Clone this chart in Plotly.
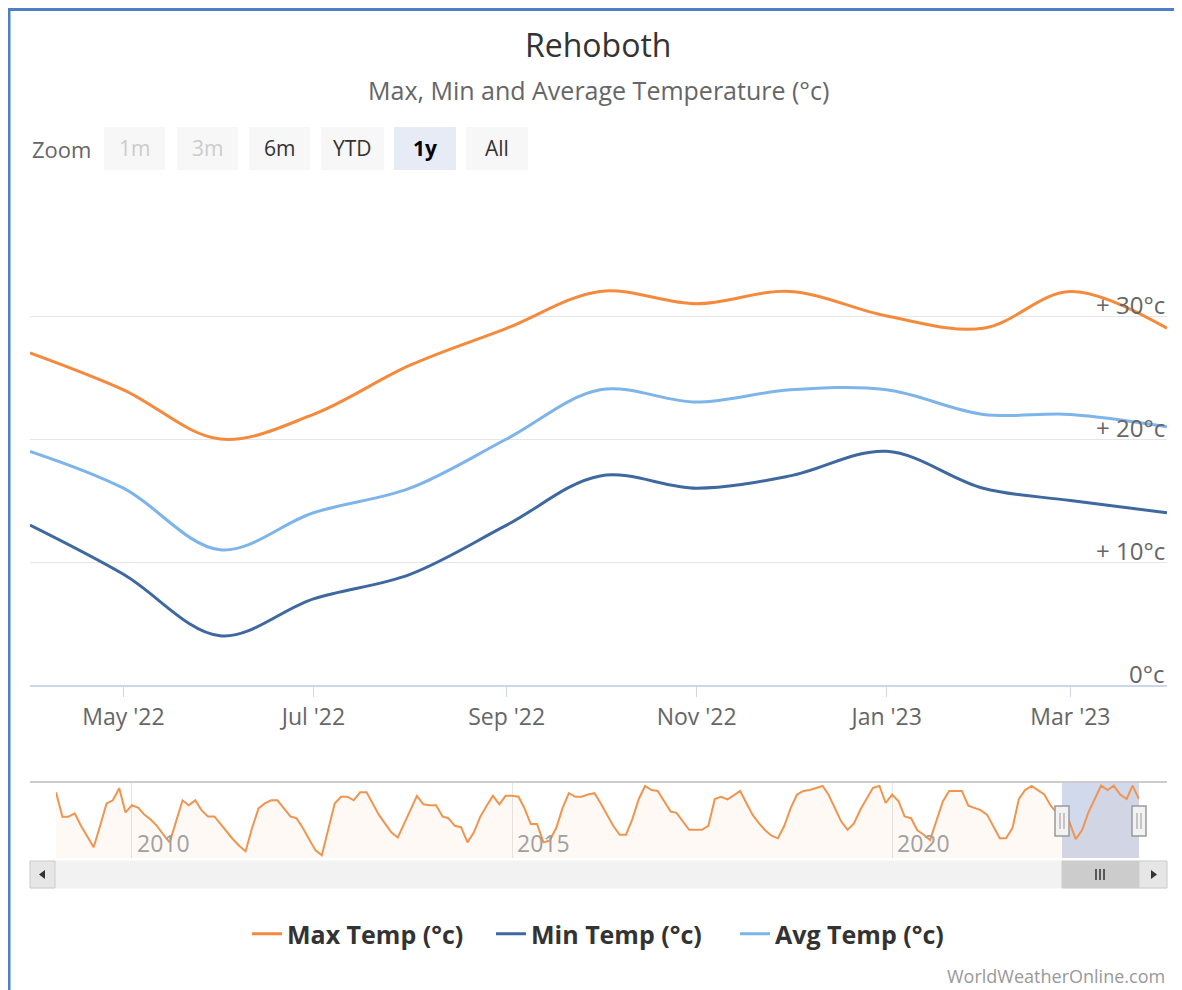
import plotly.graph_objects as go

# main chart: monthly values Apr 2022 - Apr 2023
months = ['2022-04-01', '2022-05-01', '2022-06-01', '2022-07-01', '2022-08-01', '2022-09-01',
          '2022-10-01', '2022-11-01', '2022-12-01', '2023-01-01', '2023-02-01', '2023-03-01',
          '2023-04-01']
max_temp = [27, 24, 20, 22, 26, 29, 32, 31, 32, 30, 29, 32, 29]
min_temp = [13, 9, 4, 7, 9, 13, 17, 16, 17, 19, 16, 15, 14]
avg_temp = [19, 16, 11, 14, 16, 20, 24, 23, 24, 24, 22, 22, 21]

# navigator: monthly max temp history Jan 2009 - Mar 2022 (then continues with max_temp)
nav_max_history = [
    30.5, 25.0, 25.0, 25.8, 23.0, 20.5, 18.2, 23.0, 28.0, 28.7, 31.4, 26.0,   # 2009
    27.6, 27.0, 25.5, 24.4, 23.0, 21.0, 19.3, 24.0, 28.7, 27.6, 28.7, 26.5,   # 2010
    25.1, 25.1, 23.5, 21.5, 20.0, 18.5, 17.3, 22.5, 26.9, 28.0, 28.7, 28.7,   # 2011
    27.0, 25.1, 24.7, 22.5, 20.0, 17.5, 16.4, 22.5, 28.0, 29.5, 29.5, 28.7,   # 2012
    30.5, 30.5, 28.0, 25.5, 23.5, 21.5, 20.4, 23.5, 26.9, 29.7, 27.8, 27.6,   # 2013
    27.6, 25.1, 24.7, 23.0, 22.7, 19.3, 21.5, 25.0, 27.5, 29.7, 27.8, 29.7,   # 2014
    29.7, 29.5, 27.0, 23.4, 23.4, 19.3, 19.7, 22.5, 27.0, 30.3, 29.5, 29.5,   # 2015
    30.0, 30.3, 28.1, 25.5, 23.0, 21.0, 21.0, 24.5, 29.0, 31.9, 31.0, 30.8,   # 2016
    28.5, 26.2, 25.9, 24.0, 22.1, 22.1, 22.1, 23.0, 29.0, 29.5, 28.9, 29.8,   # 2017
    30.8, 28.0, 25.5, 23.6, 22.0, 20.8, 20.2, 23.0, 27.0, 30.0, 30.8, 31.0,   # 2018
    31.5, 31.9, 30.0, 27.0, 24.0, 22.1, 23.5, 26.6, 29.0, 31.5, 31.9, 28.1,   # 2019
    30.0, 28.5, 25.1, 24.7, 22.0, 21.0, 19.8, 24.0, 28.5, 30.8, 30.8, 30.8,   # 2020
    27.5, 27.0, 26.5, 25.5, 23.0, 20.2, 20.2, 22.5, 29.0, 31.0, 31.9, 31.0,   # 2021
    30.0, 27.5, 26.0,                                                         # 2022 Jan-Mar
]
month_ticks = ['2022-05-01', '2022-07-01', '2022-09-01', '2022-11-01', '2023-01-01', '2023-03-01']
month_labels = ["May '22", "Jul '22", "Sep '22", "Nov '22", "Jan '23", "Mar '23"]
year_ticks = ['2010-01-01', '2015-01-01', '2020-01-01']
year_labels = ['2010', '2015', '2020']
y_ticks = [0, 10, 20, 30]
y_labels = ['0°c', '+ 10°c', '+ 20°c', '+ 30°c']
buttons = ['1m', '3m', '6m', 'YTD', '1y', 'All']

nav_dates = []
for yr in range(2009, 2024):
    for mo in range(1, 13):
        nav_dates.append(f'{yr}-{mo:02d}-01')
nav_max = nav_max_history + max_temp
nav_dates = nav_dates[:len(nav_max)]

# page pixels; the plot div sits 8px in from the page corner (body margin)
OFF = 8
PAGE_W, PAGE_H = 1182, 990
W, H = PAGE_W - OFF, PAGE_H - OFF
L, R, T, B = 30, 1167, 193, 858
FONT = 'Open Sans'


def px(x):
    return (x - L) / (R - L)


def py(y):
    return (B - y) / (B - T)


ORANGE = '#f58a3d'
DARK = '#3e689f'
LIGHT = '#7db4ea'

fig = go.Figure()
fig.add_trace(go.Scatter(x=months, y=max_temp, name='Max Temp (°c)', mode='lines',
                         line=dict(color=ORANGE, width=3, shape='spline', smoothing=1)))
fig.add_trace(go.Scatter(x=months, y=min_temp, name='Min Temp (°c)', mode='lines',
                         line=dict(color=DARK, width=3, shape='spline', smoothing=1)))
fig.add_trace(go.Scatter(x=months, y=avg_temp, name='Avg Temp (°c)', mode='lines',
                         line=dict(color=LIGHT, width=3, shape='spline', smoothing=1)))
fig.add_trace(go.Scatter(x=nav_dates, y=nav_max, xaxis='x2', yaxis='y2', mode='lines',
                         showlegend=False, fill='tozeroy', fillcolor='rgba(245,138,61,0.05)',
                         line=dict(color='#ee9550', width=2)))

shapes = []
annotations = []


def text(s, x, y, size, color, xanchor='center', weight='normal'):
    annotations.append(dict(text=s, xref='paper', yref='paper', x=px(x), y=py(y),
                            xanchor=xanchor, yanchor='middle', showarrow=False,
                            font=dict(family=FONT, size=size, color=color, weight=weight)))


def rect(x0, x1, y0, y1, fill, line_color=None, lw=0, layer='above'):
    shapes.append(dict(type='rect', xref='paper', yref='paper', x0=px(x0), x1=px(x1),
                       y0=py(y0), y1=py(y1), fillcolor=fill, layer=layer,
                       line=dict(color=line_color or fill, width=lw)))


def seg(x0, y0, x1, y1, color, lw):
    shapes.append(dict(type='line', xref='paper', yref='paper', x0=px(x0), x1=px(x1),
                       y0=py(y0), y1=py(y1), line=dict(color=color, width=lw)))


# frame
shapes.append(dict(type='rect', xref='paper', yref='paper', x0=px(9), x1=px(1180),
                   y0=py(9.5), y1=py(1000), line=dict(color='#4d7fc6', width=3)))

# title and subtitle
text('Rehoboth', 598, 44, 32, '#333333')
text('Max, Min and Average Temperature (°c)', 598, 90, 25, '#666666')

# range selector
text('Zoom', 30, 149, 22, '#666666', xanchor='left')
btn_x = [(104, 165), (177, 238), (249, 310), (321, 384), (394, 456), (466, 528)]
for label, (x0, x1) in zip(buttons, btn_x):
    if label in ('1m', '3m'):
        fill, col, wt = '#f7f7f7', '#cccccc', 'normal'
    elif label == '1y':
        fill, col, wt = '#e6ebf5', '#000000', 'bold'
    else:
        fill, col, wt = '#f7f7f7', '#333333', 'normal'
    rect(x0, x1, 127, 170, fill)
    text(label, (x0 + x1) / 2, 148, 21, col, weight=wt)

# y labels inside plot, right aligned just above grid lines
for v, lab in zip(y_ticks, y_labels):
    annotations.append(dict(text=lab, xref='paper', yref='y', x=1, y=v, xanchor='right',
                            yanchor='bottom', yshift=-7, showarrow=False,
                            font=dict(family=FONT, size=24, color='#666666')))

# navigator
seg(30, 782, 1167, 782, '#cccccc', 2)
rect(1062, 1139, 782, 858, 'rgba(102,133,194,0.3)', lw=0, layer='below')
for hx in (1062, 1139):
    rect(hx - 7, hx + 7, 806, 836, '#f2f2f2', '#999999', 1.5)
    for dx in (-2, 2):
        seg(hx + dx, 813, hx + dx, 829, '#999999', 1)
for yt, lab in zip(year_ticks, year_labels):
    annotations.append(dict(text=lab, xref='x2', yref='paper', x=yt, y=py(843),
                            xanchor='left', yanchor='middle', xshift=3, showarrow=False,
                            font=dict(family=FONT, size=23, color='#a0a0a0')))

# scrollbar
rect(30, 1167, 861, 888, '#f2f2f2', lw=1)
rect(1062, 1139, 861, 888, '#cccccc', lw=1)
for bx0, bx1 in ((30, 55), (1139, 1167)):
    rect(bx0, bx1, 861, 888, '#e6e6e6', '#cccccc', 1)
shapes.append(dict(type='path', xref='paper', yref='paper',
                   path=f'M {px(45)} {py(870)} L {px(39)} {py(874.5)} L {px(45)} {py(879)} Z',
                   fillcolor='#333333', line=dict(width=0)))
shapes.append(dict(type='path', xref='paper', yref='paper',
                   path=f'M {px(1151)} {py(870)} L {px(1157)} {py(874.5)} L {px(1151)} {py(879)} Z',
                   fillcolor='#333333', line=dict(width=0)))
for dx in (-4, 0, 4):
    seg(1100 + dx, 869, 1100 + dx, 880, '#333333', 1.5)

# credits
text('WorldWeatherOnline.com', 1167, 976, 18, '#999999', xanchor='right')

fig.update_layout(
    width=W, height=H, autosize=False,
    margin=dict(l=L - OFF, r=PAGE_W - R, t=T - OFF, b=PAGE_H - B, pad=0),
    paper_bgcolor='white', plot_bgcolor='white',
    font=dict(family=FONT, color='#666666'),
    xaxis=dict(domain=[0, 1], range=['2022-04-01', '2023-04-01'], tickvals=month_ticks,
               ticktext=month_labels, showgrid=False, showline=True, linecolor='#ccd6eb',
               linewidth=2, ticks='outside', ticklen=10, tickcolor='#ccd6eb', tickwidth=1,
               tickfont=dict(family=FONT, size=23, color='#666666'), zeroline=False,
               anchor='y'),
    yaxis=dict(domain=[py(685), 1], range=[0, 40], dtick=10, showgrid=True,
               gridcolor='#e6e6e6', gridwidth=1, showticklabels=False, zeroline=False,
               showline=False),
    xaxis2=dict(domain=[px(56), px(1139)], range=[nav_dates[0], nav_dates[-1]],
                tickvals=year_ticks, showticklabels=False, showgrid=True,
                gridcolor='#e6e6e6', zeroline=False, showline=False, anchor='y2'),
    yaxis2=dict(domain=[0, py(782)], range=[15.8, 32.8], showgrid=False,
                showticklabels=False, zeroline=False, anchor='x2'),
    legend=dict(orientation='h', x=px(247), xanchor='left', y=py(934), yanchor='middle',
                font=dict(family=FONT, size=25, color='#333333', weight='bold'),
                entrywidth=199, entrywidthmode='pixels', itemwidth=30, tracegroupgap=0),
    shapes=shapes,
    annotations=annotations,
    hovermode=False,
)

fig.write_html('out.html')
